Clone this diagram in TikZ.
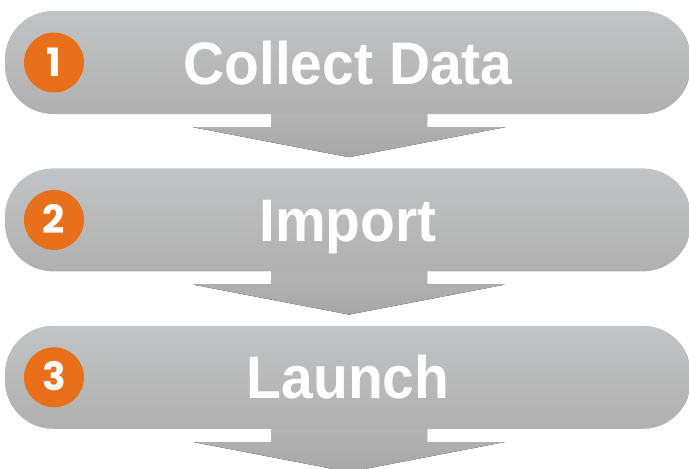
\documentclass[tikz,border=0pt]{standalone}
\usepackage{fontspec}
\setmainfont{Liberation Sans}[FakeStretch=0.95]
\newfontfamily\numfont{Poppins}
\usetikzlibrary{positioning,backgrounds}
\definecolor{barTop}{HTML}{C2C3C4}
\definecolor{barBottom}{HTML}{B0B0B0}
\definecolor{flowTop}{HTML}{B6B6B6}
\definecolor{flowBottom}{HTML}{A7A7A7}
\definecolor{dotOrange}{HTML}{E8701A}

\begin{document}
\begin{tikzpicture}[x=1pt,y=-1pt,
	bar/.style={rectangle, rounded corners=48pt, minimum width=686pt, minimum height=103pt,
		inner sep=0pt, top color=barTop, bottom color=barBottom, text=white,
		font=\fontsize{60}{60}\selectfont\bfseries, text height=43pt, text depth=0pt},
	numdot/.style={circle, fill=dotOrange, minimum size=60pt, inner sep=0pt, text=white,
		font=\numfont\fontsize{39}{39}\selectfont\bfseries, text height=27pt, text depth=0pt},
	flow/.style={top color=flowTop, bottom color=flowBottom}]
	\useasboundingbox (0,0) rectangle (689,469);
	
	\node[bar] (collect) at (348,62.5) {Collect Data};
	\node[bar, below=54pt of collect] (import) {Import};
	\node[bar, below=54pt of import] (launch) {Launch};
	
	\node[numdot, right=19pt of collect.west] (one) {1};
	\node[numdot, right=19pt of import.west] (two) {2};
	\node[numdot, right=19pt of launch.west] (three) {3};
	
	\begin{scope}[on background layer]
		\foreach \b in {collect,import,launch}
			\fill[flow] (\b.south) ++(79,-10) -- ++(0,23) -- ++(78,0) -- ++(-156,30)
				-- ++(-156,-30) -- ++(78,0) -- ++(0,-23) -- cycle;
	\end{scope}
\end{tikzpicture}
\end{document}
